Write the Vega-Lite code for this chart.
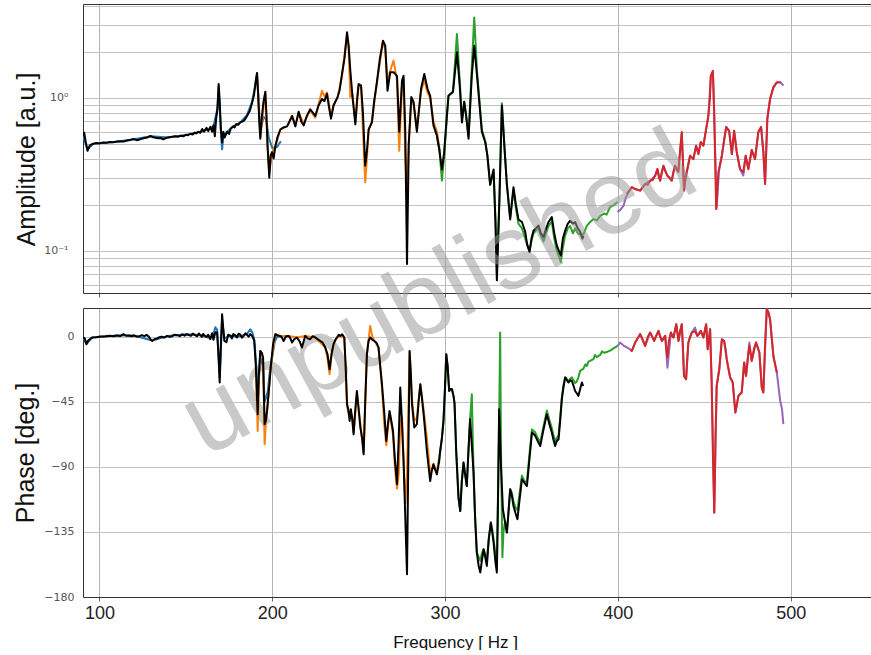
{
"$schema": "https://vega.github.io/schema/vega-lite/v6.json",
"padding": {"left": 13, "top": -1, "right": 0, "bottom": 0},
"autosize": {"type": "pad"},
"config": {
 "view": {"stroke": null},
 "axis": {"domainColor": "#333", "gridColor": "#c2c2c2", "gridWidth": 1, "tickColor": "#666", "labelFont": "DejaVu Sans", "titleFont": "Liberation Sans", "titleFontWeight": "normal", "titleColor": "#111"},
 "line": {"strokeJoin": "round"}
},
"datasets": {
 "wm": [{"t": "unpublished", "f": 296.4, "a": 0.0517}],
 "amp": [
{"s":"blue","f":90.6,"a":0.56},{"s":"blue","f":93.1,"a":0.46},{"s":"blue","f":96.5,"a":0.5},{"s":"blue","f":110,"a":0.515},{"s":"blue","f":120,"a":0.535},{"s":"blue","f":130,"a":0.56},{"s":"blue","f":140,"a":0.55},{"s":"blue","f":150,"a":0.57},{"s":"blue","f":158.4,"a":0.6},{"s":"blue","f":163,"a":0.62},{"s":"blue","f":166,"a":0.65},{"s":"blue","f":168.3,"a":0.85},{"s":"blue","f":169,"a":1.18},{"s":"blue","f":170.3,"a":0.6},{"s":"blue","f":171,"a":0.46},{"s":"blue","f":171.7,"a":0.56},{"s":"blue","f":173.9,"a":0.6},{"s":"blue","f":177.5,"a":0.65},{"s":"blue","f":181.5,"a":0.69},{"s":"blue","f":185.4,"a":0.77},{"s":"blue","f":188.3,"a":0.94},{"s":"blue","f":190.5,"a":1.25},{"s":"blue","f":191.2,"a":1.4},{"s":"blue","f":192.5,"a":0.8},{"s":"blue","f":193.1,"a":0.6},{"s":"blue","f":195,"a":0.75},{"s":"blue","f":196.5,"a":0.72},{"s":"blue","f":198,"a":0.55},{"s":"blue","f":200,"a":0.47},{"s":"blue","f":202.8,"a":0.476},{"s":"blue","f":205,"a":0.52},
{"s":"orange","f":190.5,"a":1.3},{"s":"orange","f":191.2,"a":1.45},{"s":"orange","f":193.1,"a":0.55},{"s":"orange","f":196,"a":1.1},{"s":"orange","f":197.3,"a":0.5},{"s":"orange","f":198.3,"a":0.32},{"s":"orange","f":199.9,"a":0.44},{"s":"orange","f":201.8,"a":0.48},{"s":"orange","f":204.7,"a":0.62},{"s":"orange","f":208.6,"a":0.65},{"s":"orange","f":211.5,"a":0.76},{"s":"orange","f":213.4,"a":0.66},{"s":"orange","f":215.3,"a":0.8},{"s":"orange","f":218.2,"a":0.68},{"s":"orange","f":222,"a":0.83},{"s":"orange","f":224.9,"a":0.74},{"s":"orange","f":226.8,"a":0.9},{"s":"orange","f":228.8,"a":1.11},{"s":"orange","f":230.2,"a":1.02},{"s":"orange","f":231.7,"a":1.08},{"s":"orange","f":234,"a":0.76},{"s":"orange","f":235.5,"a":0.9},{"s":"orange","f":237.8,"a":1.0},{"s":"orange","f":240.4,"a":1.4},{"s":"orange","f":243.3,"a":2.6},{"s":"orange","f":244.2,"a":2.1},{"s":"orange","f":245.2,"a":1.01},{"s":"orange","f":246.5,"a":1.05},{"s":"orange","f":248.1,"a":0.7},{"s":"orange","f":250,"a":1.2},{"s":"orange","f":251.4,"a":1.2},{"s":"orange","f":253.8,"a":0.28},{"s":"orange","f":254.8,"a":0.4},{"s":"orange","f":255.8,"a":0.62},{"s":"orange","f":257.7,"a":0.7},{"s":"orange","f":260.6,"a":1.27},{"s":"orange","f":264.1,"a":2.3},{"s":"orange","f":265.4,"a":2.1},{"s":"orange","f":266.7,"a":1.3},{"s":"orange","f":268.3,"a":1.5},{"s":"orange","f":270.2,"a":1.75},{"s":"orange","f":272.2,"a":1.3},{"s":"orange","f":273.5,"a":0.45},{"s":"orange","f":275.1,"a":1.2},{"s":"orange","f":276,"a":1.3},{"s":"orange","f":277,"a":0.4},{"s":"orange","f":278,"a":0.25},{"s":"orange","f":279,"a":0.5},{"s":"orange","f":280.5,"a":1.0},{"s":"orange","f":281.8,"a":0.9},{"s":"orange","f":283.7,"a":0.62},{"s":"orange","f":286.1,"a":1.1},{"s":"orange","f":288,"a":1.3},{"s":"orange","f":289.9,"a":1.08},{"s":"orange","f":291.4,"a":1.0},{"s":"orange","f":293.3,"a":0.7},{"s":"orange","f":295.3,"a":0.6},{"s":"orange","f":297,"a":0.45},
{"s":"green","f":295.3,"a":0.56},{"s":"green","f":296.8,"a":0.45},{"s":"green","f":298.2,"a":0.287},{"s":"green","f":299.5,"a":0.42},{"s":"green","f":302,"a":1.03},{"s":"green","f":304.6,"a":1.1},{"s":"green","f":306.9,"a":2.61},{"s":"green","f":308.5,"a":1.3},{"s":"green","f":309.8,"a":0.72},{"s":"green","f":311.1,"a":0.94},{"s":"green","f":312.3,"a":0.75},{"s":"green","f":313.6,"a":0.56},{"s":"green","f":315.5,"a":1.6},{"s":"green","f":316.9,"a":3.35},{"s":"green","f":318.5,"a":1.5},{"s":"green","f":321.3,"a":0.62},{"s":"green","f":323.3,"a":0.52},{"s":"green","f":324.5,"a":0.42},{"s":"green","f":326.1,"a":0.27},{"s":"green","f":328.1,"a":0.33},{"s":"green","f":329.2,"a":0.16},{"s":"green","f":330,"a":0.07},{"s":"green","f":331.5,"a":0.23},{"s":"green","f":332.9,"a":0.92},{"s":"green","f":334.5,"a":0.46},{"s":"green","f":335.8,"a":0.27},{"s":"green","f":337.7,"a":0.165},{"s":"green","f":339.6,"a":0.25},{"s":"green","f":341,"a":0.19},{"s":"green","f":342.5,"a":0.15},{"s":"green","f":344.5,"a":0.14},{"s":"green","f":346.4,"a":0.12},{"s":"green","f":347.5,"a":0.11},{"s":"green","f":348.9,"a":0.1},{"s":"green","f":350,"a":0.115},{"s":"green","f":351.2,"a":0.13},{"s":"green","f":352.5,"a":0.135},{"s":"green","f":354.1,"a":0.14},{"s":"green","f":355.5,"a":0.125},{"s":"green","f":357,"a":0.115},{"s":"green","f":358.5,"a":0.13},{"s":"green","f":359.9,"a":0.145},{"s":"green","f":361.8,"a":0.155},{"s":"green","f":363.2,"a":0.12},{"s":"green","f":364.7,"a":0.1},{"s":"green","f":367,"a":0.084},{"s":"green","f":368.2,"a":0.105},{"s":"green","f":369.5,"a":0.125},{"s":"green","f":371,"a":0.14},{"s":"green","f":372.4,"a":0.145},{"s":"green","f":374,"a":0.13},{"s":"green","f":375.3,"a":0.14},{"s":"green","f":376.8,"a":0.13},{"s":"green","f":378.2,"a":0.128},{"s":"green","f":380.1,"a":0.128},{"s":"green","f":382.1,"a":0.146},{"s":"green","f":384,"a":0.154},{"s":"green","f":385.9,"a":0.161},{"s":"green","f":387.8,"a":0.158},{"s":"green","f":389.8,"a":0.169},{"s":"green","f":392,"a":0.175},{"s":"green","f":393.5,"a":0.172},{"s":"green","f":395.5,"a":0.193},{"s":"green","f":397.5,"a":0.198},{"s":"green","f":399.8,"a":0.208},
{"s":"purple","f":399.8,"a":0.179},{"s":"purple","f":401.5,"a":0.185},{"s":"purple","f":403.3,"a":0.197},{"s":"purple","f":404.8,"a":0.225},{"s":"purple","f":406.1,"a":0.242},{"s":"purple","f":408,"a":0.26},{"s":"purple","f":410,"a":0.253},{"s":"purple","f":412.9,"a":0.247},{"s":"purple","f":415.8,"a":0.273},{"s":"purple","f":418.7,"a":0.287},{"s":"purple","f":421.6,"a":0.309},{"s":"purple","f":422.9,"a":0.342},{"s":"purple","f":424.5,"a":0.287},{"s":"purple","f":426.4,"a":0.359},{"s":"purple","f":428.7,"a":0.309},{"s":"purple","f":431.2,"a":0.287},{"s":"purple","f":433.1,"a":0.359},{"s":"purple","f":435,"a":0.327},{"s":"purple","f":437,"a":0.59},{"s":"purple","f":438.3,"a":0.25},{"s":"purple","f":439.9,"a":0.327},{"s":"purple","f":441.8,"a":0.418},{"s":"purple","f":443.7,"a":0.397},{"s":"purple","f":445.3,"a":0.486},{"s":"purple","f":446.6,"a":0.428},{"s":"purple","f":448,"a":0.513},{"s":"purple","f":449.5,"a":0.486},{"s":"purple","f":451.1,"a":0.624},{"s":"purple","f":452.4,"a":0.763},{"s":"purple","f":453.8,"a":1.38},{"s":"purple","f":455,"a":1.48},{"s":"purple","f":455.7,"a":0.83},{"s":"purple","f":457.2,"a":0.19},{"s":"purple","f":458.5,"a":0.33},{"s":"purple","f":460.2,"a":0.418},{"s":"purple","f":462.7,"a":0.643},{"s":"purple","f":464.4,"a":0.608},{"s":"purple","f":466,"a":0.428},{"s":"purple","f":467.3,"a":0.608},{"s":"purple","f":468.8,"a":0.442},{"s":"purple","f":470.7,"a":0.342},{"s":"purple","f":472.6,"a":0.31},{"s":"purple","f":474,"a":0.418},{"s":"purple","f":475.5,"a":0.342},{"s":"purple","f":477.5,"a":0.455},{"s":"purple","f":479.4,"a":0.397},{"s":"purple","f":481.3,"a":0.597},{"s":"purple","f":482.9,"a":0.643},{"s":"purple","f":484.2,"a":0.442},{"s":"purple","f":485.2,"a":0.273},{"s":"purple","f":486.5,"a":0.726},{"s":"purple","f":488.1,"a":0.981},{"s":"purple","f":490,"a":1.169},{"s":"purple","f":492,"a":1.26},{"s":"purple","f":493.9,"a":1.27},{"s":"purple","f":495,"a":1.23},{"s":"purple","f":495.8,"a":1.198},
{"s":"red","f":405.2,"a":0.235},{"s":"red","f":406.1,"a":0.242},{"s":"red","f":408,"a":0.26},{"s":"red","f":410,"a":0.253},{"s":"red","f":411.5,"a":0.25},{"s":"red","f":412.9,"a":0.247},{"s":"red","f":414.4,"a":0.26},{"s":"red","f":415.8,"a":0.273},{"s":"red","f":417.3,"a":0.27},{"s":"red","f":418.7,"a":0.287},{"s":"red","f":420.2,"a":0.29},{"s":"red","f":421.6,"a":0.309},{"s":"red","f":422.9,"a":0.342},{"s":"red","f":423.8,"a":0.3},{"s":"red","f":424.5,"a":0.287},{"s":"red","f":425.5,"a":0.33},{"s":"red","f":426.4,"a":0.359},{"s":"red","f":427.5,"a":0.33},{"s":"red","f":428.7,"a":0.309},{"s":"red","f":430,"a":0.3},{"s":"red","f":431.2,"a":0.287},{"s":"red","f":432.2,"a":0.33},{"s":"red","f":433.1,"a":0.359},{"s":"red","f":434,"a":0.34},{"s":"red","f":435,"a":0.327},{"s":"red","f":436,"a":0.45},{"s":"red","f":437,"a":0.597},{"s":"red","f":437.6,"a":0.4},{"s":"red","f":438.3,"a":0.247},{"s":"red","f":439.1,"a":0.3},{"s":"red","f":439.9,"a":0.327},{"s":"red","f":441.8,"a":0.418},{"s":"red","f":443.7,"a":0.397},{"s":"red","f":445.3,"a":0.486},{"s":"red","f":446.6,"a":0.428},{"s":"red","f":448,"a":0.513},{"s":"red","f":449.5,"a":0.486},{"s":"red","f":451.1,"a":0.624},{"s":"red","f":452.4,"a":0.763},{"s":"red","f":453.3,"a":1.0},{"s":"red","f":453.8,"a":1.392},{"s":"red","f":455,"a":1.5},{"s":"red","f":455.7,"a":0.844},{"s":"red","f":456.3,"a":0.4},{"s":"red","f":456.9,"a":0.187},{"s":"red","f":458.2,"a":0.327},{"s":"red","f":460.2,"a":0.418},{"s":"red","f":461.5,"a":0.53},{"s":"red","f":462.7,"a":0.643},{"s":"red","f":464.4,"a":0.608},{"s":"red","f":466,"a":0.428},{"s":"red","f":467.3,"a":0.608},{"s":"red","f":468.8,"a":0.442},{"s":"red","f":470.7,"a":0.342},{"s":"red","f":472.6,"a":0.327},{"s":"red","f":474,"a":0.418},{"s":"red","f":475.5,"a":0.342},{"s":"red","f":477.5,"a":0.455},{"s":"red","f":479.4,"a":0.397},{"s":"red","f":481.3,"a":0.597},{"s":"red","f":482.9,"a":0.643},{"s":"red","f":484.2,"a":0.442},{"s":"red","f":485.2,"a":0.273},{"s":"red","f":486.5,"a":0.726},{"s":"red","f":488.1,"a":0.981},{"s":"red","f":490,"a":1.169},{"s":"red","f":492,"a":1.26},{"s":"red","f":493.9,"a":1.26},
{"s":"black","f":90.6,"a":0.56},{"s":"black","f":91.2,"a":0.59},{"s":"black","f":92,"a":0.52},{"s":"black","f":93.1,"a":0.45},{"s":"black","f":94.5,"a":0.49},{"s":"black","f":96.5,"a":0.5},{"s":"black","f":98,"a":0.505},{"s":"black","f":100,"a":0.503},{"s":"black","f":102,"a":0.51},{"s":"black","f":104,"a":0.507},{"s":"black","f":106,"a":0.514},{"s":"black","f":108,"a":0.512},{"s":"black","f":110,"a":0.518},{"s":"black","f":112,"a":0.52},{"s":"black","f":114,"a":0.517},{"s":"black","f":116,"a":0.525},{"s":"black","f":118,"a":0.53},{"s":"black","f":119.7,"a":0.537},{"s":"black","f":121.5,"a":0.528},{"s":"black","f":123,"a":0.532},{"s":"black","f":124.5,"a":0.54},{"s":"black","f":126,"a":0.545},{"s":"black","f":127.8,"a":0.55},{"s":"black","f":129.5,"a":0.562},{"s":"black","f":131,"a":0.552},{"s":"black","f":132.5,"a":0.548},{"s":"black","f":134,"a":0.543},{"s":"black","f":135.5,"a":0.545},{"s":"black","f":137,"a":0.535},{"s":"black","f":139,"a":0.548},{"s":"black","f":141,"a":0.553},{"s":"black","f":142.5,"a":0.557},{"s":"black","f":144,"a":0.56},{"s":"black","f":145.5,"a":0.556},{"s":"black","f":147,"a":0.565},{"s":"black","f":148.5,"a":0.56},{"s":"black","f":150,"a":0.572},{"s":"black","f":151.3,"a":0.568},{"s":"black","f":152.6,"a":0.582},{"s":"black","f":154,"a":0.575},{"s":"black","f":155,"a":0.592},{"s":"black","f":156,"a":0.584},{"s":"black","f":157.2,"a":0.6},{"s":"black","f":158.4,"a":0.59},{"s":"black","f":159.5,"a":0.625},{"s":"black","f":160.5,"a":0.6},{"s":"black","f":161.3,"a":0.62},{"s":"black","f":162,"a":0.635},{"s":"black","f":163,"a":0.605},{"s":"black","f":164.2,"a":0.645},{"s":"black","f":165.2,"a":0.6},{"s":"black","f":166,"a":0.66},{"s":"black","f":166.8,"a":0.56},{"s":"black","f":167.5,"a":0.72},{"s":"black","f":168.3,"a":0.85},{"s":"black","f":169,"a":1.23},{"s":"black","f":169.6,"a":0.95},{"s":"black","f":170.3,"a":0.62},{"s":"black","f":171,"a":0.51},{"s":"black","f":171.7,"a":0.6},{"s":"black","f":172.5,"a":0.55},{"s":"black","f":173.9,"a":0.6},{"s":"black","f":175,"a":0.58},{"s":"black","f":176,"a":0.63},{"s":"black","f":177.5,"a":0.65},{"s":"black","f":178.3,"a":0.64},{"s":"black","f":179,"a":0.67},{"s":"black","f":180.3,"a":0.665},{"s":"black","f":181.5,"a":0.69},{"s":"black","f":183,"a":0.7},{"s":"black","f":184.2,"a":0.72},{"s":"black","f":185.4,"a":0.76},{"s":"black","f":187,"a":0.82},{"s":"black","f":188.3,"a":0.92},{"s":"black","f":189.5,"a":1.05},{"s":"black","f":190.5,"a":1.3},{"s":"black","f":191.2,"a":1.45},{"s":"black","f":191.8,"a":1.1},{"s":"black","f":192.5,"a":0.7},{"s":"black","f":193.1,"a":0.54},{"s":"black","f":194,"a":0.75},{"s":"black","f":195,"a":0.95},{"s":"black","f":196,"a":1.09},{"s":"black","f":196.6,"a":0.8},{"s":"black","f":197.3,"a":0.48},{"s":"black","f":198.3,"a":0.3},{"s":"black","f":199.1,"a":0.42},{"s":"black","f":199.9,"a":0.44},{"s":"black","f":200.8,"a":0.4},{"s":"black","f":201.8,"a":0.48},{"s":"black","f":203,"a":0.55},{"s":"black","f":204.7,"a":0.62},{"s":"black","f":206.5,"a":0.64},{"s":"black","f":208.6,"a":0.65},{"s":"black","f":210,"a":0.7},{"s":"black","f":211.5,"a":0.76},{"s":"black","f":213.4,"a":0.65},{"s":"black","f":215.3,"a":0.81},{"s":"black","f":216.8,"a":0.7},{"s":"black","f":218.2,"a":0.66},{"s":"black","f":220,"a":0.76},{"s":"black","f":222,"a":0.84},{"s":"black","f":223.5,"a":0.8},{"s":"black","f":224.9,"a":0.76},{"s":"black","f":226.8,"a":0.89},{"s":"black","f":228.8,"a":0.98},{"s":"black","f":230.2,"a":0.95},{"s":"black","f":231.7,"a":1.06},{"s":"black","f":233,"a":0.85},{"s":"black","f":234,"a":0.73},{"s":"black","f":235.5,"a":0.89},{"s":"black","f":237.8,"a":1.01},{"s":"black","f":239,"a":1.12},{"s":"black","f":240.4,"a":1.43},{"s":"black","f":241.8,"a":1.8},{"s":"black","f":243.3,"a":2.68},{"s":"black","f":244.2,"a":2.2},{"s":"black","f":245.2,"a":1.5},{"s":"black","f":246.5,"a":1.0},{"s":"black","f":248.1,"a":0.67},{"s":"black","f":249.2,"a":1.0},{"s":"black","f":250,"a":1.23},{"s":"black","f":251.4,"a":1.2},{"s":"black","f":252.5,"a":0.8},{"s":"black","f":253.8,"a":0.36},{"s":"black","f":254.8,"a":0.45},{"s":"black","f":255.8,"a":0.62},{"s":"black","f":257.7,"a":0.69},{"s":"black","f":259,"a":0.95},{"s":"black","f":260.6,"a":1.27},{"s":"black","f":262.3,"a":1.8},{"s":"black","f":264.1,"a":2.36},{"s":"black","f":265.4,"a":2.19},{"s":"black","f":266.7,"a":1.11},{"s":"black","f":268.3,"a":1.47},{"s":"black","f":270.2,"a":1.47},{"s":"black","f":272.2,"a":1.39},{"s":"black","f":273.5,"a":0.6},{"s":"black","f":275.1,"a":1.29},{"s":"black","f":276,"a":1.39},{"s":"black","f":277,"a":0.6},{"s":"black","f":278,"a":0.082},{"s":"black","f":279,"a":0.5},{"s":"black","f":280.5,"a":1.01},{"s":"black","f":281.8,"a":0.94},{"s":"black","f":283.7,"a":0.6},{"s":"black","f":286.1,"a":1.14},{"s":"black","f":288,"a":1.43},{"s":"black","f":289.9,"a":1.14},{"s":"black","f":291.4,"a":1.03},{"s":"black","f":293.3,"a":0.66},{"s":"black","f":295.3,"a":0.565},{"s":"black","f":296.8,"a":0.45},{"s":"black","f":298.2,"a":0.34},{"s":"black","f":299.5,"a":0.44},{"s":"black","f":301,"a":0.75},{"s":"black","f":302,"a":1.03},{"s":"black","f":304.6,"a":1.09},{"s":"black","f":306.9,"a":1.98},{"s":"black","f":308.5,"a":1.2},{"s":"black","f":309.8,"a":0.69},{"s":"black","f":311.1,"a":0.94},{"s":"black","f":312.3,"a":0.75},{"s":"black","f":313.6,"a":0.54},{"s":"black","f":315.5,"a":1.4},{"s":"black","f":316.9,"a":2.19},{"s":"black","f":318.5,"a":1.4},{"s":"black","f":321.3,"a":0.6},{"s":"black","f":323.3,"a":0.51},{"s":"black","f":324.5,"a":0.42},{"s":"black","f":326.1,"a":0.27},{"s":"black","f":328.1,"a":0.34},{"s":"black","f":329.2,"a":0.15},{"s":"black","f":330,"a":0.064},{"s":"black","f":331.5,"a":0.22},{"s":"black","f":332.9,"a":0.89},{"s":"black","f":334.5,"a":0.45},{"s":"black","f":335.8,"a":0.27},{"s":"black","f":337.7,"a":0.16},{"s":"black","f":339.6,"a":0.26},{"s":"black","f":341,"a":0.2},{"s":"black","f":342.5,"a":0.16},{"s":"black","f":344.5,"a":0.154},{"s":"black","f":346.4,"a":0.133},{"s":"black","f":347.5,"a":0.11},{"s":"black","f":348.9,"a":0.098},{"s":"black","f":350,"a":0.12},{"s":"black","f":351.2,"a":0.135},{"s":"black","f":352.5,"a":0.14},{"s":"black","f":354.1,"a":0.146},{"s":"black","f":355.5,"a":0.13},{"s":"black","f":357,"a":0.123},{"s":"black","f":358.5,"a":0.14},{"s":"black","f":359.9,"a":0.154},{"s":"black","f":361.8,"a":0.166},{"s":"black","f":363.2,"a":0.13},{"s":"black","f":364.7,"a":0.108},{"s":"black","f":367,"a":0.093},{"s":"black","f":368.2,"a":0.12},{"s":"black","f":369.5,"a":0.135},{"s":"black","f":371,"a":0.15},{"s":"black","f":372.4,"a":0.157},{"s":"black","f":374,"a":0.15},{"s":"black","f":375.3,"a":0.154},{"s":"black","f":376.8,"a":0.14},{"s":"black","f":378.2,"a":0.133},{"s":"black","f":379.5,"a":0.12},{"s":"black","f":380.1,"a":0.125}
 ],
 "phase": [
{"s":"blue","f":90.6,"p":-0.4},{"s":"blue","f":92.5,"p":-5},{"s":"blue","f":95.8,"p":-0.4},{"s":"blue","f":110,"p":1},{"s":"blue","f":120,"p":1},{"s":"blue","f":130.5,"p":-2.5},{"s":"blue","f":140,"p":0.7},{"s":"blue","f":150,"p":1.9},{"s":"blue","f":158.4,"p":1.2},{"s":"blue","f":164.2,"p":-1},{"s":"blue","f":166,"p":2},{"s":"blue","f":167.1,"p":6.7},{"s":"blue","f":168.1,"p":5},{"s":"blue","f":169.6,"p":-28},{"s":"blue","f":171,"p":12},{"s":"blue","f":172.3,"p":-1},{"s":"blue","f":175.8,"p":1},{"s":"blue","f":180,"p":0},{"s":"blue","f":185.4,"p":2},{"s":"blue","f":187.3,"p":5.3},{"s":"blue","f":188.5,"p":3},{"s":"blue","f":189.6,"p":-2},{"s":"blue","f":190.5,"p":-15},{"s":"blue","f":191.6,"p":-40},{"s":"blue","f":192.5,"p":-25},{"s":"blue","f":193.5,"p":-15},{"s":"blue","f":194.7,"p":-20},{"s":"blue","f":195.6,"p":-45},{"s":"blue","f":196.5,"p":-42},{"s":"blue","f":197.5,"p":-37},{"s":"blue","f":198.5,"p":-25},{"s":"blue","f":199.8,"p":-15},{"s":"blue","f":201.5,"p":-3},{"s":"blue","f":203,"p":0.5},{"s":"blue","f":205,"p":0},
{"s":"orange","f":190.5,"p":-20},{"s":"orange","f":191.6,"p":-65.1},{"s":"orange","f":192.3,"p":-30},{"s":"orange","f":193.1,"p":-10},{"s":"orange","f":194.7,"p":-15},{"s":"orange","f":195.6,"p":-74.3},{"s":"orange","f":196.3,"p":-60},{"s":"orange","f":197,"p":-52},{"s":"orange","f":199.3,"p":-19},{"s":"orange","f":201.8,"p":1.9},{"s":"orange","f":204.7,"p":0.7},{"s":"orange","f":209.5,"p":0.7},{"s":"orange","f":214.3,"p":-0.4},{"s":"orange","f":219.1,"p":0.7},{"s":"orange","f":224.9,"p":-0.4},{"s":"orange","f":230.7,"p":-7.3},{"s":"orange","f":232,"p":-15},{"s":"orange","f":233.2,"p":-25.8},{"s":"orange","f":234.3,"p":-13},{"s":"orange","f":235.5,"p":-5},{"s":"orange","f":237.5,"p":-0.4},{"s":"orange","f":239.4,"p":0.7},{"s":"orange","f":241.7,"p":-0.4},{"s":"orange","f":243.3,"p":-48},{"s":"orange","f":244.8,"p":-56},{"s":"orange","f":246.2,"p":-54},{"s":"orange","f":247.1,"p":-66},{"s":"orange","f":249,"p":-39},{"s":"orange","f":251,"p":-60},{"s":"orange","f":252.9,"p":-80},{"s":"orange","f":254.8,"p":-12},{"s":"orange","f":256.7,"p":7.6},{"s":"orange","f":258,"p":0},{"s":"orange","f":259.1,"p":-2.8},{"s":"orange","f":261.5,"p":-7.3},{"s":"orange","f":263.5,"p":-35},{"s":"orange","f":264.8,"p":-60},{"s":"orange","f":266,"p":-75},{"s":"orange","f":267,"p":-62},{"s":"orange","f":267.9,"p":-52},{"s":"orange","f":269.9,"p":-68},{"s":"orange","f":271,"p":-90},{"s":"orange","f":272.2,"p":-105},{"s":"orange","f":273.2,"p":-95},{"s":"orange","f":274.1,"p":-60},{"s":"orange","f":275.1,"p":-55},{"s":"orange","f":276,"p":-86},{"s":"orange","f":277,"p":-115},{"s":"orange","f":278,"p":-95},{"s":"orange","f":279.5,"p":-10},{"s":"orange","f":280.9,"p":-44},{"s":"orange","f":282.2,"p":-58},{"s":"orange","f":283.7,"p":-56},{"s":"orange","f":285.7,"p":-33},{"s":"orange","f":287.6,"p":-50},{"s":"orange","f":289.5,"p":-70},{"s":"orange","f":291.4,"p":-95},{"s":"orange","f":293.3,"p":-88},{"s":"orange","f":295.3,"p":-93},{"s":"orange","f":296.5,"p":-85},
{"s":"green","f":296.5,"p":-88},{"s":"green","f":297.2,"p":-79},{"s":"green","f":298.2,"p":-70},{"s":"green","f":299.1,"p":-58},{"s":"green","f":300,"p":-35},{"s":"green","f":300.7,"p":-12},{"s":"green","f":301.5,"p":-20},{"s":"green","f":302.4,"p":-37.4},{"s":"green","f":303.2,"p":-36},{"s":"green","f":304,"p":-36.2},{"s":"green","f":304.9,"p":-40.8},{"s":"green","f":305.5,"p":-46},{"s":"green","f":306.5,"p":-80},{"s":"green","f":307.8,"p":-111.2},{"s":"green","f":308.8,"p":-120.5},{"s":"green","f":309.7,"p":-100},{"s":"green","f":310.7,"p":-87},{"s":"green","f":311.6,"p":-95},{"s":"green","f":312.6,"p":-103.2},{"s":"green","f":313.5,"p":-80},{"s":"green","f":314.5,"p":-57},{"s":"green","f":315.5,"p":-39.7},{"s":"green","f":316.5,"p":-93.7},{"s":"green","f":317.4,"p":-125},{"s":"green","f":318.4,"p":-149.3},{"s":"green","f":319.4,"p":-152},{"s":"green","f":320.4,"p":-155},{"s":"green","f":321.3,"p":-150},{"s":"green","f":322.3,"p":-147},{"s":"green","f":323.2,"p":-150},{"s":"green","f":324.2,"p":-155},{"s":"green","f":325.3,"p":-140},{"s":"green","f":326.5,"p":-128.5},{"s":"green","f":327.3,"p":-133},{"s":"green","f":328.1,"p":-140},{"s":"green","f":329.1,"p":-150},{"s":"green","f":330,"p":-158},{"s":"green","f":331.3,"p":-60},{"s":"green","f":331.9,"p":3},{"s":"green","f":332.4,"p":-80},{"s":"green","f":333.2,"p":-152.5},{"s":"green","f":333.8,"p":-135},{"s":"green","f":334.7,"p":-128},{"s":"green","f":335.8,"p":-135.4},{"s":"green","f":336.8,"p":-120},{"s":"green","f":337.7,"p":-105.4},{"s":"green","f":338.7,"p":-108},{"s":"green","f":339.6,"p":-114},{"s":"green","f":340.8,"p":-118},{"s":"green","f":341.9,"p":-120},{"s":"green","f":343.2,"p":-108},{"s":"green","f":344.5,"p":-96},{"s":"green","f":346,"p":-100},{"s":"green","f":347.4,"p":-100},{"s":"green","f":348.8,"p":-82},{"s":"green","f":350.3,"p":-64},{"s":"green","f":351.2,"p":-65},{"s":"green","f":352.2,"p":-66},{"s":"green","f":353.6,"p":-70},{"s":"green","f":355.1,"p":-73},{"s":"green","f":357,"p":-62},{"s":"green","f":358.9,"p":-51},{"s":"green","f":360.3,"p":-57},{"s":"green","f":361.8,"p":-63},{"s":"green","f":362.7,"p":-68},{"s":"green","f":363.7,"p":-72},{"s":"green","f":364.7,"p":-70},{"s":"green","f":365.7,"p":-68},{"s":"green","f":366.7,"p":-55},{"s":"green","f":367.6,"p":-42},{"s":"green","f":368.5,"p":-34},{"s":"green","f":369.5,"p":-28},{"s":"green","f":370.5,"p":-29},{"s":"green","f":371.4,"p":-31},{"s":"green","f":372.4,"p":-29},{"s":"green","f":373.4,"p":-28},{"s":"green","f":374.4,"p":-30},{"s":"green","f":375.3,"p":-32},{"s":"green","f":376.2,"p":-31},{"s":"green","f":377.2,"p":-28},{"s":"green","f":378.2,"p":-23.5},{"s":"green","f":380.1,"p":-22},{"s":"green","f":381.2,"p":-19},{"s":"green","f":382.1,"p":-20.1},{"s":"green","f":383,"p":-17},{"s":"green","f":384,"p":-16.6},{"s":"green","f":385.9,"p":-15.4},{"s":"green","f":386.8,"p":-12.5},{"s":"green","f":387.8,"p":-14},{"s":"green","f":389.8,"p":-12.5},{"s":"green","f":390.8,"p":-10},{"s":"green","f":392,"p":-11},{"s":"green","f":393.5,"p":-10.5},{"s":"green","f":395.5,"p":-9.5},{"s":"green","f":397.5,"p":-8},{"s":"green","f":399.8,"p":-6.2},
{"s":"purple","f":399.8,"p":-6.2},{"s":"purple","f":401.3,"p":-3.9},{"s":"purple","f":403.3,"p":-6},{"s":"purple","f":405.2,"p":-7.3},{"s":"purple","f":407,"p":-8.5},{"s":"purple","f":408.1,"p":-9.7},{"s":"purple","f":410,"p":-3.9},{"s":"purple","f":412.9,"p":1.9},{"s":"purple","f":415.8,"p":-6.2},{"s":"purple","f":418.7,"p":3},{"s":"purple","f":421,"p":-2.8},{"s":"purple","f":423.5,"p":4.2},{"s":"purple","f":425.5,"p":-2.8},{"s":"purple","f":427.4,"p":0.7},{"s":"purple","f":428.7,"p":-21.3},{"s":"purple","f":430.7,"p":3},{"s":"purple","f":432.2,"p":-0.4},{"s":"purple","f":433.8,"p":8.8},{"s":"purple","f":435.1,"p":-2.8},{"s":"purple","f":437,"p":8.8},{"s":"purple","f":438.3,"p":-27},{"s":"purple","f":439.5,"p":-29.3},{"s":"purple","f":440.8,"p":-3.9},{"s":"purple","f":442.8,"p":3},{"s":"purple","f":444.7,"p":6.4},{"s":"purple","f":446,"p":0.7},{"s":"purple","f":448,"p":4.2},{"s":"purple","f":449.5,"p":-0.4},{"s":"purple","f":451.1,"p":8.8},{"s":"purple","f":452,"p":-8.5},{"s":"purple","f":453.4,"p":5.3},{"s":"purple","f":454.3,"p":-31.6},{"s":"purple","f":455.8,"p":-121.6},{"s":"purple","f":457.2,"p":-33.9},{"s":"purple","f":458.7,"p":-22.4},{"s":"purple","f":460.2,"p":-1.6},{"s":"purple","f":461.5,"p":-2.8},{"s":"purple","f":463,"p":-15.4},{"s":"purple","f":465,"p":-28.1},{"s":"purple","f":466.5,"p":-31.6},{"s":"purple","f":468,"p":-52.3},{"s":"purple","f":469.8,"p":-40.8},{"s":"purple","f":471.7,"p":-38.5},{"s":"purple","f":473.1,"p":-17.7},{"s":"purple","f":474.2,"p":-27},{"s":"purple","f":476.1,"p":-3.9},{"s":"purple","f":477.5,"p":-16.6},{"s":"purple","f":480,"p":-3.9},{"s":"purple","f":481.9,"p":-10.8},{"s":"purple","f":483.3,"p":-35},{"s":"purple","f":484.2,"p":-38.5},{"s":"purple","f":486.2,"p":19.5},{"s":"purple","f":488.1,"p":12.3},{"s":"purple","f":490,"p":-13.2},{"s":"purple","f":492,"p":-24.6},{"s":"purple","f":493.9,"p":-44},{"s":"purple","f":495,"p":-50},{"s":"purple","f":495.8,"p":-60.4},
{"s":"red","f":407.5,"p":-9},{"s":"red","f":408.1,"p":-9.7},{"s":"red","f":409,"p":-7},{"s":"red","f":410,"p":-3.9},{"s":"red","f":411.5,"p":-1},{"s":"red","f":412.9,"p":1.9},{"s":"red","f":414.4,"p":-2},{"s":"red","f":415.8,"p":-6.2},{"s":"red","f":417.3,"p":0},{"s":"red","f":418.7,"p":3},{"s":"red","f":420,"p":0},{"s":"red","f":421,"p":-2.8},{"s":"red","f":422.3,"p":1},{"s":"red","f":423.5,"p":4.2},{"s":"red","f":424.5,"p":0},{"s":"red","f":425.5,"p":-2.8},{"s":"red","f":426.5,"p":-1},{"s":"red","f":427.4,"p":0.7},{"s":"red","f":428.2,"p":-10},{"s":"red","f":428.7,"p":-14},{"s":"red","f":429.5,"p":-3},{"s":"red","f":430.7,"p":3},{"s":"red","f":431.5,"p":0.5},{"s":"red","f":432.2,"p":-0.4},{"s":"red","f":433,"p":4},{"s":"red","f":433.8,"p":8.8},{"s":"red","f":434.5,"p":3},{"s":"red","f":435.1,"p":-2.8},{"s":"red","f":436,"p":4},{"s":"red","f":437,"p":8.8},{"s":"red","f":437.6,"p":-5},{"s":"red","f":438.3,"p":-27},{"s":"red","f":439.5,"p":-29.3},{"s":"red","f":440.2,"p":-15},{"s":"red","f":440.8,"p":-3.9},{"s":"red","f":441.8,"p":0},{"s":"red","f":442.8,"p":3},{"s":"red","f":444.7,"p":4},{"s":"red","f":446,"p":0.7},{"s":"red","f":447,"p":2},{"s":"red","f":448,"p":4.2},{"s":"red","f":449.5,"p":-0.4},{"s":"red","f":450.3,"p":4},{"s":"red","f":451.1,"p":8.8},{"s":"red","f":452,"p":-8.5},{"s":"red","f":453.4,"p":5.3},{"s":"red","f":454.3,"p":-31.6},{"s":"red","f":455,"p":-80},{"s":"red","f":455.8,"p":-121.6},{"s":"red","f":456.5,"p":-70},{"s":"red","f":457.2,"p":-33.9},{"s":"red","f":458.7,"p":-22.4},{"s":"red","f":460.2,"p":-1.6},{"s":"red","f":461.5,"p":-2.8},{"s":"red","f":462.3,"p":-8},{"s":"red","f":463,"p":-15.4},{"s":"red","f":464,"p":-22},{"s":"red","f":465,"p":-28.1},{"s":"red","f":466.5,"p":-31.6},{"s":"red","f":468,"p":-52.3},{"s":"red","f":469.8,"p":-40.8},{"s":"red","f":471.7,"p":-38.5},{"s":"red","f":473.1,"p":-17.7},{"s":"red","f":474.2,"p":-27},{"s":"red","f":475.2,"p":-15},{"s":"red","f":476.1,"p":-6},{"s":"red","f":477.5,"p":-16.6},{"s":"red","f":478.8,"p":-8},{"s":"red","f":480,"p":-3.9},{"s":"red","f":481.9,"p":-10.8},{"s":"red","f":483.3,"p":-35},{"s":"red","f":484.2,"p":-38.5},{"s":"red","f":485.2,"p":-5},{"s":"red","f":486.2,"p":19.5},{"s":"red","f":487.2,"p":17},{"s":"red","f":488.1,"p":12.3},{"s":"red","f":490,"p":-13.2},{"s":"red","f":492,"p":-24.6},
{"s":"black","f":90.6,"p":-0.4},{"s":"black","f":91.5,"p":-1},{"s":"black","f":92.5,"p":-5},{"s":"black","f":93.5,"p":-2.5},{"s":"black","f":95.8,"p":-0.4},{"s":"black","f":98,"p":-0.2},{"s":"black","f":100.6,"p":0.3},{"s":"black","f":103,"p":0.2},{"s":"black","f":106,"p":0.8},{"s":"black","f":108,"p":0.4},{"s":"black","f":110,"p":1},{"s":"black","f":112,"p":0.6},{"s":"black","f":113.9,"p":1.9},{"s":"black","f":115.5,"p":0.8},{"s":"black","f":117,"p":1},{"s":"black","f":118.5,"p":0.4},{"s":"black","f":120,"p":1},{"s":"black","f":121.5,"p":0.2},{"s":"black","f":123,"p":0.3},{"s":"black","f":124.5,"p":1.2},{"s":"black","f":126,"p":0.5},{"s":"black","f":127.3,"p":1.4},{"s":"black","f":128.5,"p":0.3},{"s":"black","f":129.5,"p":-1.5},{"s":"black","f":130.5,"p":-2.8},{"s":"black","f":132,"p":-1.5},{"s":"black","f":133.4,"p":-1.1},{"s":"black","f":134.7,"p":-0.2},{"s":"black","f":136,"p":0.2},{"s":"black","f":137.5,"p":-0.5},{"s":"black","f":139.2,"p":0.7},{"s":"black","f":140.6,"p":0},{"s":"black","f":142,"p":0.5},{"s":"black","f":143.5,"p":1.5},{"s":"black","f":145,"p":1.2},{"s":"black","f":146.5,"p":0.5},{"s":"black","f":148,"p":1.7},{"s":"black","f":149.3,"p":0.8},{"s":"black","f":150.7,"p":1.9},{"s":"black","f":152,"p":1.1},{"s":"black","f":153,"p":0.8},{"s":"black","f":154,"p":2.2},{"s":"black","f":155,"p":1.5},{"s":"black","f":156.5,"p":0.4},{"s":"black","f":157.5,"p":2.4},{"s":"black","f":158.4,"p":1.2},{"s":"black","f":159.2,"p":0},{"s":"black","f":160,"p":2},{"s":"black","f":161,"p":0.8},{"s":"black","f":162,"p":0},{"s":"black","f":163,"p":1.5},{"s":"black","f":164.2,"p":-1.6},{"s":"black","f":165.2,"p":2.5},{"s":"black","f":166,"p":-2},{"s":"black","f":167.1,"p":3.2},{"s":"black","f":168.1,"p":3},{"s":"black","f":168.8,"p":-10},{"s":"black","f":169.6,"p":-31.6},{"s":"black","f":170.3,"p":-5},{"s":"black","f":171,"p":15.7},{"s":"black","f":171.7,"p":5},{"s":"black","f":172.3,"p":-2.8},{"s":"black","f":173.5,"p":-3.7},{"s":"black","f":174.5,"p":1.5},{"s":"black","f":175.8,"p":0.7},{"s":"black","f":176.7,"p":-1},{"s":"black","f":177.5,"p":2},{"s":"black","f":178.5,"p":1.2},{"s":"black","f":179.6,"p":-0.4},{"s":"black","f":180.5,"p":2.2},{"s":"black","f":181.5,"p":1.5},{"s":"black","f":182.5,"p":-0.5},{"s":"black","f":183.5,"p":0.7},{"s":"black","f":184.5,"p":2.5},{"s":"black","f":185.4,"p":1.5},{"s":"black","f":186.3,"p":0.2},{"s":"black","f":187.3,"p":1.9},{"s":"black","f":188.5,"p":0.5},{"s":"black","f":189.6,"p":-2.8},{"s":"black","f":190.5,"p":-20},{"s":"black","f":191.6,"p":-53.5},{"s":"black","f":192.3,"p":-25},{"s":"black","f":193.1,"p":-9.7},{"s":"black","f":194,"p":-11},{"s":"black","f":194.7,"p":-14.3},{"s":"black","f":195.6,"p":-60.4},{"s":"black","f":196.3,"p":-58},{"s":"black","f":197,"p":-51.2},{"s":"black","f":198.2,"p":-35},{"s":"black","f":199.3,"p":-18.9},{"s":"black","f":200.5,"p":-5},{"s":"black","f":201.8,"p":1.9},{"s":"black","f":203.2,"p":1},{"s":"black","f":204.7,"p":0.7},{"s":"black","f":205.6,"p":-0.5},{"s":"black","f":206.6,"p":-2.8},{"s":"black","f":208,"p":0.5},{"s":"black","f":209.5,"p":0.7},{"s":"black","f":210.5,"p":-1},{"s":"black","f":211.5,"p":-3.9},{"s":"black","f":212.8,"p":-1.5},{"s":"black","f":214.3,"p":-0.4},{"s":"black","f":215.8,"p":-3},{"s":"black","f":217.2,"p":-7.3},{"s":"black","f":218.2,"p":-3},{"s":"black","f":219.1,"p":0.7},{"s":"black","f":220.5,"p":-1},{"s":"black","f":222,"p":-1.6},{"s":"black","f":223.5,"p":0.5},{"s":"black","f":224.9,"p":-0.4},{"s":"black","f":226.3,"p":-1.5},{"s":"black","f":227.8,"p":-2.8},{"s":"black","f":229.2,"p":-4},{"s":"black","f":230.7,"p":-7.3},{"s":"black","f":232,"p":-12},{"s":"black","f":233.2,"p":-22.4},{"s":"black","f":234.3,"p":-12},{"s":"black","f":235.5,"p":-5},{"s":"black","f":236.5,"p":-2},{"s":"black","f":237.5,"p":-0.4},{"s":"black","f":238.5,"p":1.5},{"s":"black","f":239.4,"p":0.7},{"s":"black","f":240.5,"p":1.8},{"s":"black","f":241.7,"p":-0.4},{"s":"black","f":242.5,"p":-20},{"s":"black","f":243.3,"p":-46.6},{"s":"black","f":244,"p":-50},{"s":"black","f":244.8,"p":-58.2},{"s":"black","f":245.5,"p":-50},{"s":"black","f":246.2,"p":-55.8},{"s":"black","f":247.1,"p":-67.4},{"s":"black","f":248.1,"p":-50},{"s":"black","f":249,"p":-37.4},{"s":"black","f":250,"p":-50},{"s":"black","f":251,"p":-62.7},{"s":"black","f":252,"p":-70},{"s":"black","f":252.9,"p":-81.2},{"s":"black","f":253.8,"p":-45},{"s":"black","f":254.8,"p":-12},{"s":"black","f":255.7,"p":-3},{"s":"black","f":256.7,"p":-0.4},{"s":"black","f":258,"p":-2},{"s":"black","f":259.1,"p":-2.8},{"s":"black","f":260.3,"p":-4},{"s":"black","f":261.5,"p":-7.3},{"s":"black","f":262.5,"p":-20},{"s":"black","f":263.5,"p":-32.7},{"s":"black","f":264.8,"p":-52},{"s":"black","f":266,"p":-72},{"s":"black","f":267,"p":-60},{"s":"black","f":267.9,"p":-51.2},{"s":"black","f":268.9,"p":-58},{"s":"black","f":269.9,"p":-65.1},{"s":"black","f":271,"p":-85},{"s":"black","f":272.2,"p":-102},{"s":"black","f":273.2,"p":-70},{"s":"black","f":274.1,"p":-35},{"s":"black","f":275.1,"p":-60},{"s":"black","f":276,"p":-85.8},{"s":"black","f":277,"p":-125},{"s":"black","f":278,"p":-164.3},{"s":"black","f":278.8,"p":-80},{"s":"black","f":279.5,"p":-9.7},{"s":"black","f":280.2,"p":-25},{"s":"black","f":280.9,"p":-46.6},{"s":"black","f":282.2,"p":-62.7},{"s":"black","f":283.7,"p":-60.4},{"s":"black","f":284.7,"p":-45},{"s":"black","f":285.7,"p":-32.7},{"s":"black","f":286.6,"p":-42},{"s":"black","f":287.6,"p":-53.5},{"s":"black","f":288.5,"p":-65},{"s":"black","f":289.5,"p":-78.9},{"s":"black","f":290.5,"p":-90},{"s":"black","f":291.4,"p":-99.7},{"s":"black","f":292.3,"p":-93},{"s":"black","f":293.3,"p":-88.1},{"s":"black","f":294.3,"p":-92},{"s":"black","f":295.3,"p":-95.1},{"s":"black","f":296.3,"p":-88},{"s":"black","f":297.2,"p":-78.9},{"s":"black","f":298.2,"p":-70},{"s":"black","f":299.1,"p":-58.2},{"s":"black","f":300,"p":-35},{"s":"black","f":300.7,"p":-12},{"s":"black","f":301.5,"p":-20},{"s":"black","f":302.4,"p":-37.4},{"s":"black","f":303.2,"p":-36},{"s":"black","f":304,"p":-36.2},{"s":"black","f":304.9,"p":-40.8},{"s":"black","f":305.5,"p":-46},{"s":"black","f":306.5,"p":-80},{"s":"black","f":307.8,"p":-111.2},{"s":"black","f":308.8,"p":-120.5},{"s":"black","f":309.7,"p":-100},{"s":"black","f":310.7,"p":-87},{"s":"black","f":311.6,"p":-95},{"s":"black","f":312.6,"p":-103.2},{"s":"black","f":313.5,"p":-80},{"s":"black","f":314.5,"p":-57},{"s":"black","f":315.5,"p":-75},{"s":"black","f":316.5,"p":-93.7},{"s":"black","f":317.4,"p":-125},{"s":"black","f":318.4,"p":-149.3},{"s":"black","f":319.4,"p":-158},{"s":"black","f":320.4,"p":-163.1},{"s":"black","f":321.3,"p":-155},{"s":"black","f":322.3,"p":-147},{"s":"black","f":323.2,"p":-152},{"s":"black","f":324.2,"p":-158.5},{"s":"black","f":325.3,"p":-140},{"s":"black","f":326.5,"p":-128.5},{"s":"black","f":327.3,"p":-135},{"s":"black","f":328.1,"p":-142.3},{"s":"black","f":329.1,"p":-155},{"s":"black","f":330,"p":-163.1},{"s":"black","f":330.7,"p":-110},{"s":"black","f":331.3,"p":-50.1},{"s":"black","f":332.4,"p":-90},{"s":"black","f":333.5,"p":-119.3},{"s":"black","f":334.7,"p":-128},{"s":"black","f":335.8,"p":-135.4},{"s":"black","f":336.8,"p":-120},{"s":"black","f":337.7,"p":-105.4},{"s":"black","f":338.7,"p":-110},{"s":"black","f":339.6,"p":-117},{"s":"black","f":340.8,"p":-122},{"s":"black","f":341.9,"p":-126.2},{"s":"black","f":343.2,"p":-112},{"s":"black","f":344.5,"p":-98.5},{"s":"black","f":346,"p":-101},{"s":"black","f":347.4,"p":-103.2},{"s":"black","f":348.8,"p":-85},{"s":"black","f":350.3,"p":-66.2},{"s":"black","f":351.2,"p":-67},{"s":"black","f":352.2,"p":-68.5},{"s":"black","f":353.6,"p":-72},{"s":"black","f":355.1,"p":-75.5},{"s":"black","f":357,"p":-64},{"s":"black","f":358.9,"p":-53.5},{"s":"black","f":360.3,"p":-60},{"s":"black","f":361.8,"p":-66.2},{"s":"black","f":362.7,"p":-71},{"s":"black","f":363.7,"p":-75.5},{"s":"black","f":364.7,"p":-72},{"s":"black","f":365.7,"p":-70.8},{"s":"black","f":366.7,"p":-57},{"s":"black","f":367.6,"p":-43.1},{"s":"black","f":368.5,"p":-35},{"s":"black","f":369.5,"p":-28.1},{"s":"black","f":370.5,"p":-30},{"s":"black","f":371.4,"p":-31.6},{"s":"black","f":372.4,"p":-30},{"s":"black","f":373.4,"p":-30.5},{"s":"black","f":374.4,"p":-34},{"s":"black","f":375.3,"p":-37.4},{"s":"black","f":376.2,"p":-39},{"s":"black","f":377.2,"p":-40.8},{"s":"black","f":378.2,"p":-36},{"s":"black","f":379.2,"p":-31.6},{"s":"black","f":379.9,"p":-34}
 ]
},
"vconcat": [
 {
  "width": 788, "height": 289,
  "resolve": {"axis": {"x": "independent"}},
  "layer": [
   {
    "data": {"name": "amp"},
    "transform": [{"filter": "datum.s != 'black'"}],
    "mark": {"type": "line", "strokeWidth": 2, "clip": true},
    "encoding": {
     "x": {"field": "f", "type": "quantitative", "scale": {"domain": [90.5, 546.5], "nice": false, "zero": false},
           "axis": {"orient": "bottom", "values": [100, 200, 300, 400, 500], "labels": false, "title": null, "tickSize": 4, "grid": true, "gridColor": "#b4b4b4"}},
     "y": {"field": "a", "type": "quantitative", "scale": {"type": "log", "domain": [0.0529, 4.1], "nice": false},
           "axis": {"title": "Amplitude [a.u.]", "values": [0.06, 0.07, 0.08, 0.09, 0.1, 0.2, 0.3, 0.4, 0.5, 0.6, 0.7, 0.8, 0.9, 1, 2, 3, 4],
                    "labelExpr": "datum.value == 1 ? '10⁰' : (datum.value == 0.1 ? '10⁻¹' : '')", "labelOverlap": false,
                    "labelFontSize": 11, "labelColor": "#555", "tickSize": 0, "labelPadding": 15,
                    "titleFontSize": 25, "titleX": -57, "titleY": 155, "titleBaseline": "middle"}},
     "color": {"field": "s", "type": "nominal", "legend": null,
               "scale": {"domain": ["blue", "orange", "green", "purple", "red"], "range": ["#1f77b4", "#ff7f0e", "#2ca02c", "#9467bd", "#d62728"]}}
    }
   },
   {
    "data": {"name": "amp"},
    "transform": [{"filter": "datum.s == 'black'"}],
    "mark": {"type": "line", "color": "#000000", "strokeWidth": 2, "clip": true},
    "encoding": {
     "x": {"field": "f", "type": "quantitative", "axis": {"orient": "top", "labels": false, "ticks": false, "grid": false, "title": null, "domain": true, "minExtent": 0, "maxExtent": 0}},
     "y": {"field": "a", "type": "quantitative"}
    }
   },
   {
    "data": {"name": "wm"},
    "mark": {"type": "text", "font": "Liberation Sans", "fontSize": 105, "angle": -28.5, "align": "center", "baseline": "middle", "color": "#999999", "opacity": 0.52},
    "encoding": {
     "x": {"field": "f", "type": "quantitative", "axis": null},
     "y": {"field": "a", "type": "quantitative"},
     "text": {"field": "t"}
    }
   }
  ]
 },
 {
  "width": 788, "height": 289,
  "resolve": {"axis": {"x": "independent"}},
  "layer": [
   {
    "data": {"name": "phase"},
    "transform": [{"filter": "datum.s != 'black'"}],
    "mark": {"type": "line", "strokeWidth": 2, "clip": true},
    "encoding": {
     "x": {"field": "f", "type": "quantitative", "scale": {"domain": [90.5, 546.5], "nice": false, "zero": false},
           "axis": {"orient": "bottom", "values": [100, 200, 300, 400, 500], "title": "Frequency  [ Hz ]", "labelFont": "Liberation Sans", "labelFontSize": 18, "labelColor": "#222", "labelPadding": 3, "tickSize": 4, "grid": true, "gridColor": "#b4b4b4",
                    "titleFontSize": 17, "titleX": 372, "titleY": 45, "titleBaseline": "middle"}},
     "y": {"field": "p", "type": "quantitative", "scale": {"domain": [-180, 20], "nice": false, "zero": false},
           "axis": {"title": "Phase  [deg.]", "values": [0, -45, -90, -135, -180], "labelFontSize": 11, "labelColor": "#555", "tickSize": 0, "labelPadding": 9,
                    "titleFontSize": 25, "titleX": -58, "titleY": 144.5, "titleBaseline": "middle"}},
     "color": {"field": "s", "type": "nominal", "legend": null,
               "scale": {"domain": ["blue", "orange", "green", "purple", "red"], "range": ["#1f77b4", "#ff7f0e", "#2ca02c", "#9467bd", "#d62728"]}}
    }
   },
   {
    "data": {"name": "phase"},
    "transform": [{"filter": "datum.s == 'black'"}],
    "mark": {"type": "line", "color": "#000000", "strokeWidth": 2, "clip": true},
    "encoding": {
     "x": {"field": "f", "type": "quantitative", "axis": {"orient": "top", "labels": false, "ticks": false, "grid": false, "title": null, "domain": true, "minExtent": 0, "maxExtent": 0}},
     "y": {"field": "p", "type": "quantitative"}
    }
   }
  ]
 }
],
"spacing": 15,
"bounds": "flush"
}
